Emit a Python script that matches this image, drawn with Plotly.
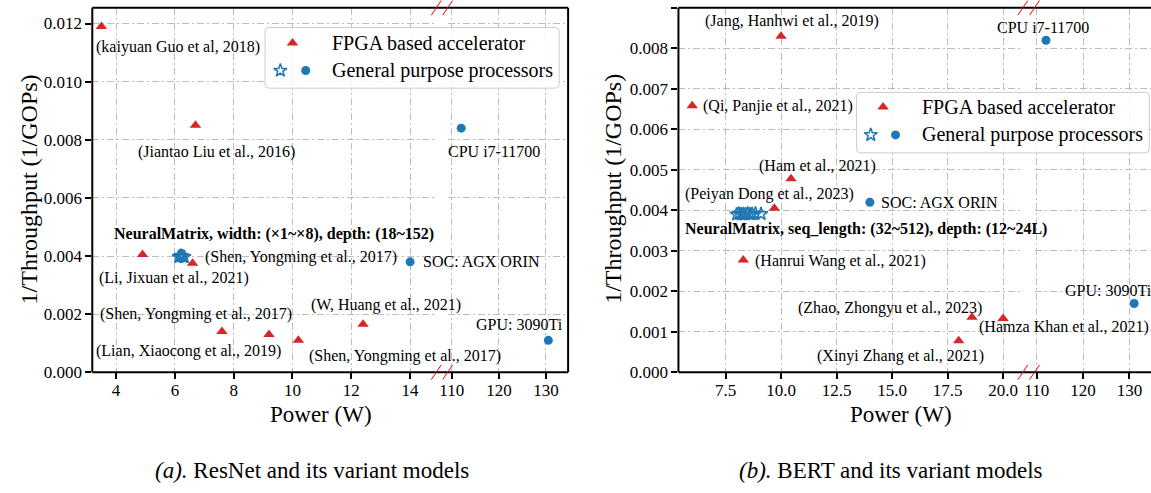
import plotly.graph_objects as go

W, H = 1151, 493
FONT = "Liberation Serif"
RED = "#d62728"
BLUE = "#1f77b4"

# ---------------- data: (a) ResNet and its variant models ----------------
a_fpga_power = [3.5, 6.7, 4.9, 6.6, 7.6, 9.2, 10.2, 12.4]
a_fpga_inv = [0.0119, 0.0085, 0.00405, 0.00375, 0.0014, 0.0013, 0.0011, 0.00165]
a_fpga_labels = ["(kaiyuan Guo et al, 2018)", "(Jiantao Liu et al., 2016)",
                 "(Li, Jixuan et al., 2021)", "(Shen, Yongming et al., 2017)",
                 "(Shen, Yongming et al., 2017)", "(Lian, Xiaocong et al., 2019)",
                 "(Shen, Yongming et al., 2017)", "(W, Huang et al., 2021)"]
a_gpp_power = [14.0, 112.0, 130.5]
a_gpp_inv = [0.0038, 0.0084, 0.0011]
a_gpp_labels = ["SOC: AGX ORIN", "CPU i7-11700", "GPU: 3090Ti"]
a_nm_power = [6.13, 6.17, 6.2, 6.24, 6.28, 6.32]
a_nm_inv = [0.00397, 0.00399, 0.00401, 0.004, 0.00398, 0.00397]
a_nm_label = "NeuralMatrix, width: (×1~×8), depth: (18~152)"
a_caption = "<i>(a).</i> ResNet and its variant models"

# ---------------- data: (b) BERT and its variant models ----------------
b_fpga_power = [10.0, 6.0, 10.45, 9.7, 8.3, 18.6, 20.0, 18.0]
b_fpga_inv = [0.0083, 0.00658, 0.00478, 0.00405, 0.00277, 0.00136, 0.00133, 0.00078]
b_fpga_labels = ["(Jang, Hanhwi et al., 2019)", "(Qi, Panjie et al., 2021)",
                 "(Ham et al., 2021)", "(Peiyan Dong et al., 2023)",
                 "(Hanrui Wang et al., 2021)", "(Zhao, Zhongyu et al., 2023)",
                 "(Hamza Khan et al., 2021)", "(Xinyi Zhang et al., 2021)"]
b_gpp_power = [14.0, 112.0, 131.0]
b_gpp_inv = [0.0042, 0.0082, 0.0017]
b_gpp_labels = ["SOC: AGX ORIN", "CPU i7-11700", "GPU: 3090Ti"]
b_nm_power = [8.0, 8.1, 8.2, 8.3, 8.4, 8.5, 8.6, 8.7, 8.85, 9.1]
b_nm_inv = [0.0039, 0.00392, 0.0039, 0.00391, 0.0039, 0.00392, 0.0039, 0.00391, 0.00392, 0.00391]
b_nm_label = "NeuralMatrix, seq_length: (32~512), depth: (12~24L)"
b_caption = "<i>(b).</i> BERT and its variant models"

legend_names = ["FPGA based accelerator", "General purpose processors"]
x_title = "Power (W)"
y_title = "1/Throughput (1/GOPs)"

# ---------------- layout (pixel geometry, label offsets) ----------------
a_fpga_off = [(76.8, 21), (21.3, 26.3), (31, 23), (108.6, -6), (-26.3, -17.3),
              (-80.3, 16), (106.8, 15.6), (23.1, -19)]
a_gpp_off = [(71.8, 0), (32.7, 23), (-28.5, -16.3)]
a_nm_off = (95.1, -23)
b_fpga_off = [(10.8, -15.4), (85.5, 0), (26.8, -12.7), (-5.3, -14.3), (96.8, 1),
              (-81.5, -9.3), (61.2, 9), (-58.5, 15.3)]
b_gpp_off = [(70, 0), (-3, -12.3), (-26, -12.7)]
b_nm_off = (129, 15)

TOP, BOT = 8, 380
panels = [
    dict(xl=83, xm1=430, xm2=441.5, xr=563, r1=[3.19, 14.89], r2=[109.12, 134.7],
         dt1=2, fmt1="d", yr=[0, 0.01254], ydt=0.002, rspine=True,
         fpga=(a_fpga_power, a_fpga_inv, a_fpga_labels, a_fpga_off),
         gpp=(a_gpp_power, a_gpp_inv, a_gpp_labels, a_gpp_off),
         nm=(a_nm_power, a_nm_inv, a_nm_label, a_nm_off),
         legend=dict(box=(257.3, 28, 554, 90), tri=(285, 44), star=(272.7, 72),
                     circ=(298.3, 72), tx=322.7, ty=(44, 72)),
         ytitle=(19.5, 193), xtitle=(314, 423), caption=a_caption, cap=(305, 480)),
    dict(xl=674.3, xm1=1021.7, xm2=1033.5, xr=1151, r1=[5.38, 20.89], r2=[109.53, 134.64],
         dt1=2.5, fmt1=".1f", yr=[0, 0.009], ydt=0.001, rspine=False,
         fpga=(b_fpga_power, b_fpga_inv, b_fpga_labels, b_fpga_off),
         gpp=(b_gpp_power, b_gpp_inv, b_gpp_labels, b_gpp_off),
         nm=(b_nm_power, b_nm_inv, b_nm_label, b_nm_off),
         legend=dict(box=(854, 94.3, 1149.3, 156), tri=(880.7, 109.3), star=(868.3, 137.7),
                     circ=(893.3, 137.7), tx=918.3, ty=(109.3, 137.7)),
         ytitle=(608, 193), xtitle=(899, 423), caption=b_caption, cap=(889, 480)),
]

fig = go.Figure()
annotations = []
shapes = []

tickfont = dict(family=FONT, size=17, color="black")
grid = dict(showgrid=True, gridcolor="#bdbdbd", gridwidth=1, griddash="7px,3px,2px,3px",
            zeroline=False, ticks="outside", ticklen=6, tickwidth=1.5, tickcolor="black",
            tickfont=tickfont, showline=False, fixedrange=True)
ydom = [1 - BOT / H, 1 - TOP / H]
layout_axes = {}

for i, p in enumerate(panels):
    xa1, xa2 = f"x{2*i+1}", f"x{2*i+2}"
    ya = f"y{i+1}"
    xa1n = "xaxis" if i == 0 else f"xaxis{2*i+1}"
    xa2n = f"xaxis{2*i+2}"
    yan = "yaxis" if i == 0 else f"yaxis{i+1}"
    xa1r = "x" if i == 0 else xa1
    yar = "y" if i == 0 else ya
    layout_axes[xa1n] = dict(domain=[p["xl"] / W, p["xm1"] / W], range=p["r1"], anchor=yar,
                             dtick=p["dt1"], tick0=0, tickformat=p["fmt1"],
                             ticklabelstandoff=-4, **grid)
    layout_axes[xa2n] = dict(domain=[p["xm2"] / W, p["xr"] / W], range=p["r2"], anchor=yar,
                             dtick=10, tick0=0, tickformat="d", ticklabelstandoff=-4, **grid)
    layout_axes[yan] = dict(domain=ydom, range=p["yr"], anchor=xa1r, dtick=p["ydt"], tick0=0,
                            tickformat=".3f", **grid)
    brk = p["r1"][1]

    def add_pts(xs, ys, sym, color, size, line=None):
        for seg, xr in ((0, xa1r), (1, xa2)):
            sx = [x for x in xs if (x > brk) == bool(seg)]
            sy = [y for x, y in zip(xs, ys) if (x > brk) == bool(seg)]
            if not sx:
                continue
            mk = dict(symbol=sym, color=color, size=size)
            if line:
                mk["line"] = line
            fig.add_trace(go.Scatter(x=sx, y=sy, mode="markers", marker=mk,
                                     xaxis=xr, yaxis=yar, showlegend=False, hoverinfo="skip"))

    def add_labels(xs, ys, labels, offs, bold=False):
        for x, y, t, (dx, dy) in zip(xs, ys, labels, offs):
            annotations.append(dict(
                x=x, y=y, xref=(xa2 if x > brk else xa1r), yref=yar,
                text=(f"<b>{t}</b>" if bold else t), showarrow=False,
                xanchor="center", yanchor="middle", xshift=dx, yshift=-dy,
                font=dict(family=FONT, size=16, color="black")))

    fx, fy, fl, fo = p["fpga"]
    gx, gy, gl, go_ = p["gpp"]
    nx, ny, nl, no = p["nm"]
    add_pts(fx, fy, "triangle-up", RED, 10)
    add_pts(gx, gy, "circle", BLUE, 9)
    add_pts(nx, ny, "star-open", BLUE, 10, line=dict(color=BLUE, width=1.5))
    add_labels(fx, fy, fl, fo)
    add_labels(gx, gy, gl, go_)
    add_labels([nx[0]], [ny[0]], [nl], [no], bold=True)

    # spines
    sp = dict(type="line", xref="x99", yref="y99", layer="above",
              line=dict(color="black", width=2))
    shapes.append(dict(sp, x0=p["xl"], x1=p["xr"], y0=BOT, y1=BOT))
    shapes.append(dict(sp, x0=p["xl"], x1=p["xr"], y0=TOP, y1=TOP))
    shapes.append(dict(sp, x0=p["xl"], x1=p["xl"], y0=TOP, y1=BOT))
    if p["rspine"]:
        shapes.append(dict(sp, x0=p["xr"], x1=p["xr"], y0=TOP, y1=BOT))
    # break marks
    for cx in (p["xm1"], p["xm2"]):
        for yy in (TOP, BOT):
            shapes.append(dict(type="line", xref="x99", yref="y99", layer="above",
                               x0=cx - 5, x1=cx + 5, y0=yy + 7.5, y1=yy - 7.5,
                               line=dict(color="red", width=1)))

    # legend
    lg = p["legend"]
    x0, y0, x1, y1 = lg["box"]
    r = 4
    path = (f"M {x0+r},{y0} L {x1-r},{y0} Q {x1},{y0} {x1},{y0+r} L {x1},{y1-r} "
            f"Q {x1},{y1} {x1-r},{y1} L {x0+r},{y1} Q {x0},{y1} {x0},{y1-r} "
            f"L {x0},{y0+r} Q {x0},{y0} {x0+r},{y0} Z")
    shapes.append(dict(type="path", path=path, xref="x99", yref="y99", layer="below",
                       fillcolor="rgba(255,255,255,0.85)", line=dict(color="#cccccc", width=1)))
    fig.add_trace(go.Scatter(x=[lg["tri"][0]], y=[lg["tri"][1]], mode="markers",
                             marker=dict(symbol="triangle-up", color=RED, size=10),
                             xaxis="x99", yaxis="y99", showlegend=False, hoverinfo="skip"))
    fig.add_trace(go.Scatter(x=[lg["circ"][0]], y=[lg["circ"][1]], mode="markers",
                             marker=dict(symbol="circle", color=BLUE, size=9),
                             xaxis="x99", yaxis="y99", showlegend=False, hoverinfo="skip"))
    fig.add_trace(go.Scatter(x=[lg["star"][0]], y=[lg["star"][1]], mode="markers",
                             marker=dict(symbol="star-open", color=BLUE, size=10,
                                         line=dict(color=BLUE, width=1.5)),
                             xaxis="x99", yaxis="y99", showlegend=False, hoverinfo="skip"))
    for name, ty in zip(legend_names, lg["ty"]):
        annotations.append(dict(x=lg["tx"], y=ty, xref="x99", yref="y99", text=name,
                                showarrow=False, xanchor="left", yanchor="middle",
                                font=dict(family=FONT, size=20, color="black")))
    # titles and caption
    annotations.append(dict(x=p["ytitle"][0], y=p["ytitle"][1], xref="x99", yref="y99",
                            text=y_title, textangle=-90, showarrow=False,
                            xanchor="center", yanchor="middle",
                            font=dict(family=FONT, size=24, color="black")))
    annotations.append(dict(x=p["xtitle"][0], y=p["xtitle"][1], xref="x99", yref="y99",
                            text=x_title, showarrow=False, xanchor="center", yanchor="middle",
                            font=dict(family=FONT, size=23, color="black")))
    annotations.append(dict(x=p["cap"][0], y=p["cap"][1], xref="x99", yref="y99",
                            text=p["caption"], showarrow=False, xanchor="center",
                            yanchor="middle", font=dict(family=FONT, size=23, color="black")))

layout_axes["xaxis99"] = dict(domain=[0, 1], range=[0, W], visible=False, anchor="y99",
                              fixedrange=True, showgrid=False, zeroline=False)
layout_axes["yaxis99"] = dict(domain=[0, 1], range=[H, 0], visible=False, anchor="x99",
                              fixedrange=True, showgrid=False, zeroline=False)

fig.update_layout(width=W, height=H, margin=dict(l=0, r=0, t=0, b=0),
                  paper_bgcolor="white", plot_bgcolor="rgba(0,0,0,0)",
                  showlegend=False, annotations=annotations, shapes=shapes,
                  font=dict(family=FONT, color="black"), **layout_axes)

fig.write_html("out.html", config={"displayModeBar": False},
               post_script="document.body.style.margin='0';")
